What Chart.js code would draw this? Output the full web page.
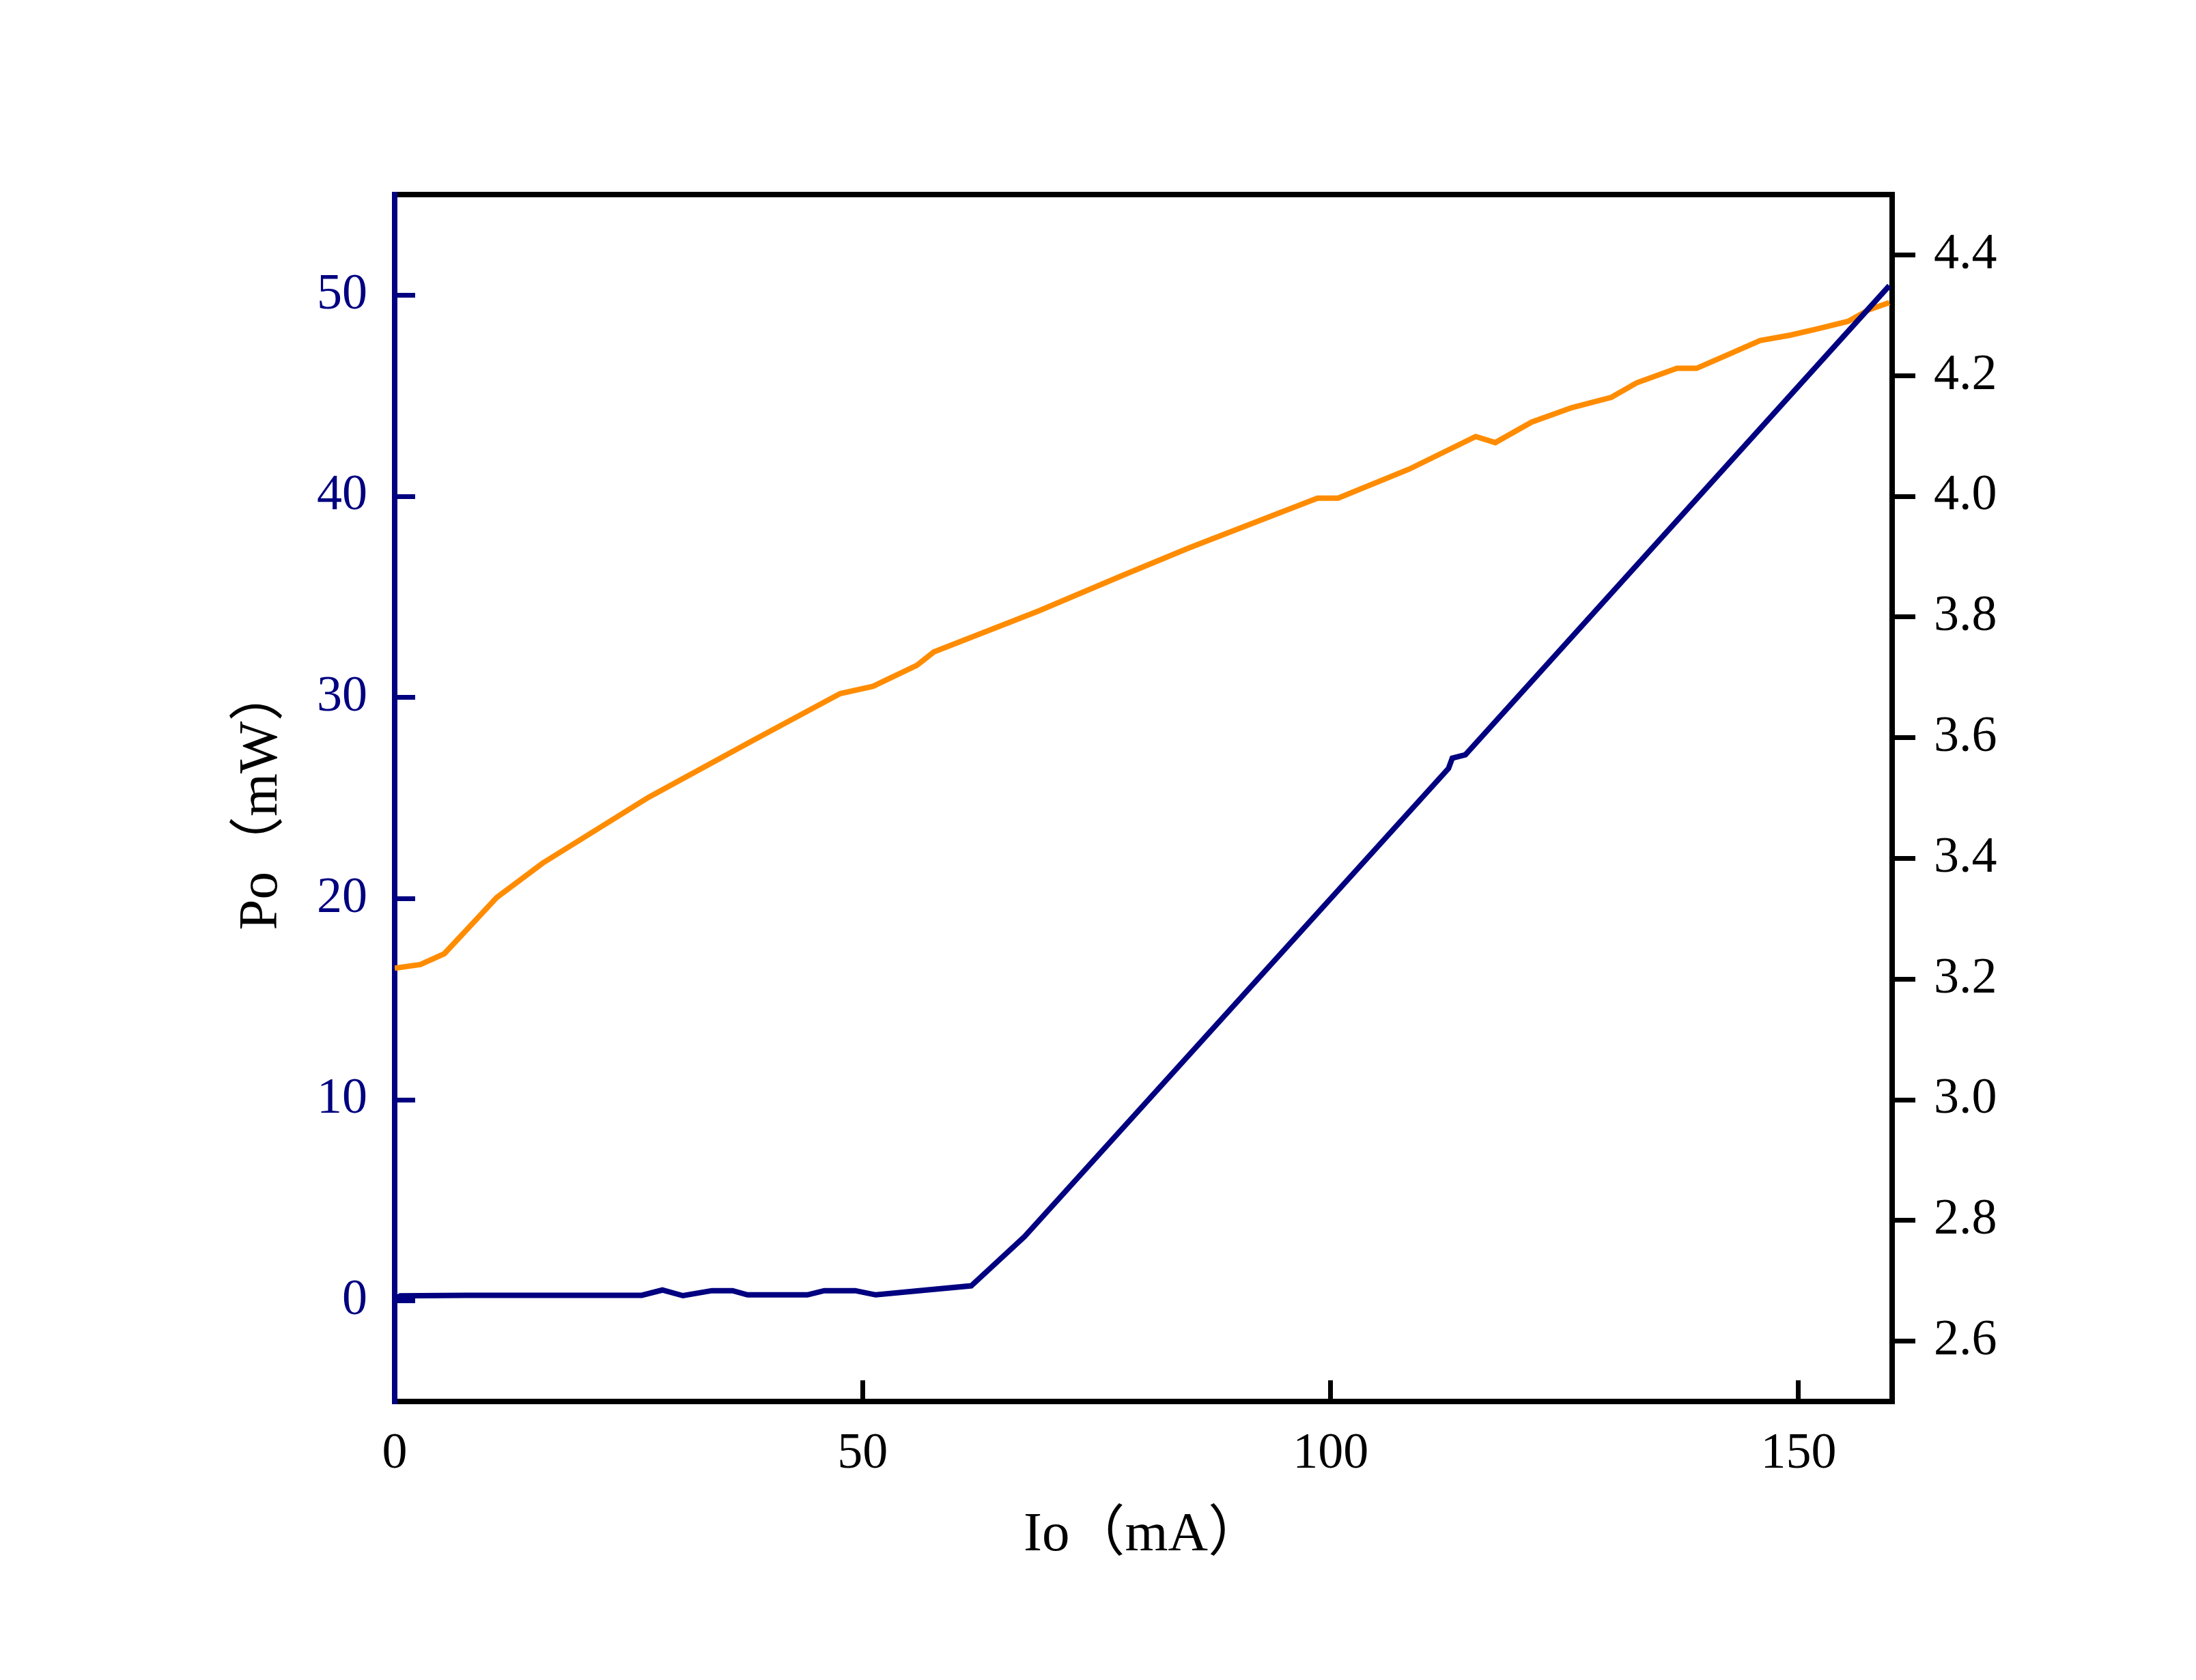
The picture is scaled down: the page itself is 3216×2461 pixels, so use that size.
<!DOCTYPE html>
<html><head><meta charset="utf-8">
<script src="https://cdn.jsdelivr.net/npm/chart.js@4.4.0/dist/chart.umd.min.js"></script>
<style>html,body{margin:0;padding:0;background:#fff;overflow:hidden}canvas{display:block}</style>
</head><body>
<canvas id="c" width="3216" height="2461" style="width:3216px;height:2461px"></canvas>
<script>
// Po (mW) vs Io (mA)
const powerIo = [0, 0.6, 7.6, 26.4, 28.6, 30.8, 33.9, 36.1, 37.7, 44.1, 45.9, 49.2, 51.4, 61.6, 67.3, 112.6, 113.0, 114.4, 159.7];
const powerPo = [0.1, 0.25, 0.28, 0.28, 0.54, 0.26, 0.51, 0.51, 0.3, 0.3, 0.51, 0.51, 0.3, 0.75, 3.2, 26.47, 26.98, 27.15, 50.47];
// Voltage (V) vs Io (mA)
const voltIo = [0, 2.75, 5.3, 7.9, 10.9, 15.8, 27.1, 38.1, 47.6, 51.1, 55.8, 57.6, 68.8, 77.8, 84.8, 98.6, 100.8, 108.4, 115.5, 117.6, 121.5, 125.8, 130.0, 132.7, 137.0, 139.1, 141.9, 145.9, 149.1, 151.9, 155.3, 157.5, 159.7];
const voltV = [3.218, 3.224, 3.242, 3.285, 3.335, 3.392, 3.501, 3.594, 3.673, 3.685, 3.72, 3.742, 3.81, 3.869, 3.914, 3.997, 3.997, 4.045, 4.099, 4.089, 4.123, 4.147, 4.164, 4.188, 4.212, 4.212, 4.231, 4.258, 4.267, 4.277, 4.29, 4.309, 4.321];

const xTicks = [0, 50, 100, 150];
const leftTicks = [0, 10, 20, 30, 40, 50];
const rightTicks = [2.6, 2.8, 3.0, 3.2, 3.4, 3.6, 3.8, 4.0, 4.2, 4.4];
const xTitle = 'Io（mA）';
const yTitle = 'Po（mW）';

const NAVY = '#000080', ORANGE = '#FF8C00', BLACK = '#000000';
const tickFont = {family: "'Liberation Serif', 'Times New Roman', serif", size: 74};
const titleFont = {family: "'Liberation Serif', 'Noto Sans CJK SC', serif", size: 81};

function fixTicks(values) { return function (scale) { scale.ticks = values.map(v => ({value: v})); }; }

new Chart(document.getElementById('c').getContext('2d'), {
  type: 'scatter',
  data: {
    datasets: [
      {label: 'Po', data: powerIo.map((x, i) => ({x: x, y: powerPo[i]})), yAxisID: 'y', xAxisID: 'x',
       borderColor: NAVY, backgroundColor: NAVY, borderWidth: 8, showLine: true, pointRadius: 0, tension: 0, fill: false},
      {label: 'V', data: voltIo.map((x, i) => ({x: x, y: voltV[i]})), yAxisID: 'y2', xAxisID: 'x',
       borderColor: ORANGE, backgroundColor: ORANGE, borderWidth: 8, showLine: true, pointRadius: 0, tension: 0, fill: false}
    ]
  },
  options: {
    responsive: false, devicePixelRatio: 1, animation: false,
    layout: {padding: {left: 0, right: 0, top: 285, bottom: 0}, autoPadding: false},
    plugins: {legend: {display: false}, tooltip: {enabled: false}},
    scales: {
      x: {type: 'linear', position: 'bottom', min: 0, max: 160,
          afterBuildTicks: fixTicks(xTicks), afterFit(s) { s.height = 408; },
          grid: {drawOnChartArea: false, drawTicks: true, tickLength: -31, color: BLACK, lineWidth: 7},
          border: {display: true, color: BLACK, width: 8},
          ticks: {font: tickFont, color: BLACK, padding: 64, maxRotation: 0, autoSkip: false},
          title: {display: true, text: xTitle, font: titleFont, color: BLACK, padding: {top: 0, bottom: 163}}},
      xTop: {type: 'linear', axis: 'x', position: 'top', min: 0, max: 160,
          afterFit(s) { s.height = 0; },
          grid: {drawOnChartArea: false, drawTicks: false},
          border: {display: true, color: BLACK, width: 8},
          ticks: {display: false}},
      y: {type: 'linear', position: 'left', min: -5, max: 55,
          afterBuildTicks: fixTicks(leftTicks), afterFit(s) { s.width = 578; },
          grid: {drawOnChartArea: false, drawTicks: true, tickLength: -30, color: NAVY, lineWidth: 7},
          border: {display: true, color: NAVY, width: 8},
          ticks: {font: tickFont, color: NAVY, padding: 70, autoSkip: false},
          title: {display: true, text: yTitle, font: titleFont, color: BLACK, padding: {top: 335, bottom: 0}}},
      y2: {type: 'linear', position: 'right', min: 2.5, max: 4.5,
          afterBuildTicks: fixTicks(rightTicks), afterFit(s) { s.width = 445; },
          grid: {drawOnChartArea: false, drawTicks: true, tickLength: 34, color: BLACK, lineWidth: 7},
          border: {display: true, color: BLACK, width: 8},
          ticks: {font: tickFont, color: BLACK, padding: 27, autoSkip: false,
                  callback: v => Number(v).toFixed(1)}}
    }
  }
});
</script>
</body></html>
